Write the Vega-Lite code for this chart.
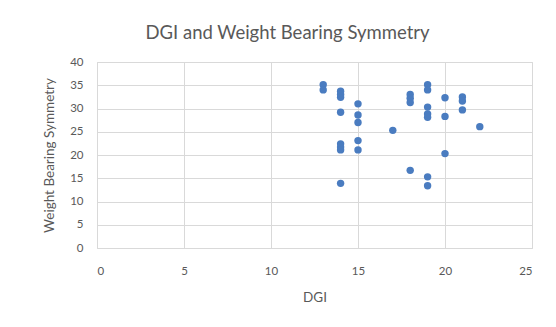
{
  "$schema": "https://vega.github.io/schema/vega-lite/v6.json",
  "autosize": "none",
  "width": 435,
  "height": 186,
  "padding": {"left": 97, "top": 62, "right": 24, "bottom": 79},
  "background": "white",
  "title": {
    "text": "DGI and Weight Bearing Symmetry",
    "font": "Lato",
    "fontSize": 18.5,
    "fontWeight": "normal",
    "color": "#595959",
    "anchor": "middle",
    "dx": -27,
    "offset": 14
  },
  "data": {
    "values": [
      {"DGI": 13, "WBS": 35.1},
      {"DGI": 13, "WBS": 34.0},
      {"DGI": 14, "WBS": 33.7},
      {"DGI": 14, "WBS": 33.0},
      {"DGI": 14, "WBS": 32.4},
      {"DGI": 14, "WBS": 29.2},
      {"DGI": 14, "WBS": 22.4},
      {"DGI": 14, "WBS": 21.7},
      {"DGI": 14, "WBS": 21.1},
      {"DGI": 14, "WBS": 13.9},
      {"DGI": 15, "WBS": 31.0},
      {"DGI": 15, "WBS": 28.6},
      {"DGI": 15, "WBS": 27.0},
      {"DGI": 15, "WBS": 23.1},
      {"DGI": 15, "WBS": 21.1},
      {"DGI": 17, "WBS": 25.3},
      {"DGI": 18, "WBS": 33.0},
      {"DGI": 18, "WBS": 32.2},
      {"DGI": 18, "WBS": 31.3},
      {"DGI": 18, "WBS": 16.7},
      {"DGI": 19, "WBS": 35.1},
      {"DGI": 19, "WBS": 34.0},
      {"DGI": 19, "WBS": 30.3},
      {"DGI": 19, "WBS": 28.8},
      {"DGI": 19, "WBS": 28.1},
      {"DGI": 19, "WBS": 15.3},
      {"DGI": 19, "WBS": 13.4},
      {"DGI": 20, "WBS": 32.3},
      {"DGI": 20, "WBS": 28.3},
      {"DGI": 20, "WBS": 20.3},
      {"DGI": 21, "WBS": 32.5},
      {"DGI": 21, "WBS": 31.6},
      {"DGI": 21, "WBS": 29.7},
      {"DGI": 22, "WBS": 26.1}
    ]
  },
  "mark": {"type": "circle", "size": 55, "color": "#4a7cc0", "opacity": 1},
  "encoding": {
    "x": {
      "field": "DGI",
      "type": "quantitative",
      "scale": {"domain": [0, 25], "nice": false, "zero": false},
      "axis": {
        "title": "DGI",
        "values": [0, 5, 10, 15, 20, 25],
        "domain": false,
        "ticks": false,
        "labelPadding": 17,
        "titlePadding": 14,
        "gridColor": "#d9d9d9"
      }
    },
    "y": {
      "field": "WBS",
      "type": "quantitative",
      "scale": {"domain": [0, 40], "nice": false},
      "axis": {
        "title": "Weight Bearing Symmetry",
        "values": [0, 5, 10, 15, 20, 25, 30, 35, 40],
        "domain": false,
        "ticks": false,
        "labelPadding": 14,
        "titlePadding": 13,
        "gridColor": "#d9d9d9"
      }
    }
  },
  "config": {
    "view": {"stroke": "#d9d9d9"},
    "axis": {
      "labelFont": "Lato",
      "labelFontSize": 11.5,
      "labelColor": "#595959",
      "titleFont": "Lato",
      "titleFontSize": 13.5,
      "titleFontWeight": "normal",
      "titleColor": "#595959"
    }
  }
}
